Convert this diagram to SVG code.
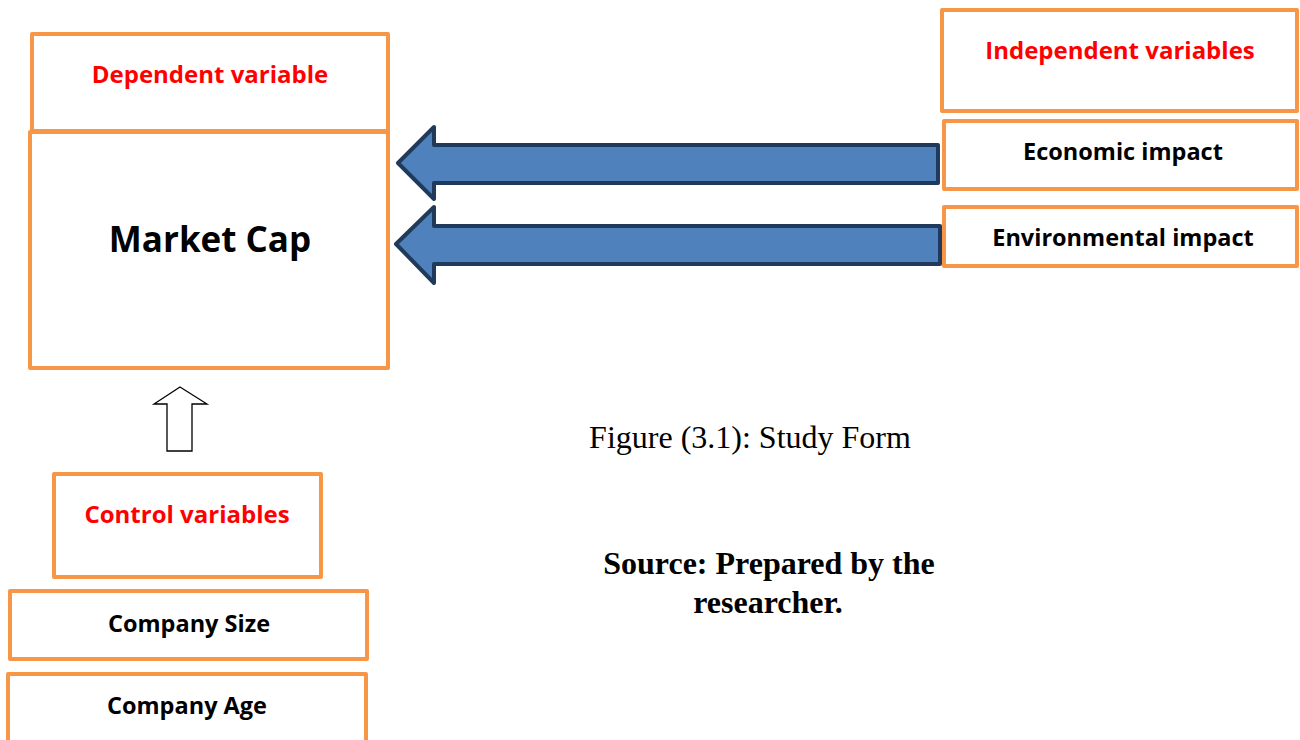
<svg xmlns="http://www.w3.org/2000/svg" width="1300" height="740" viewBox="0 0 1300 740">
<style>
.box{fill:#fff;stroke:#F79646;stroke-width:4;stroke-linejoin:round}
.lbl{font-family:"Open Sans","Liberation Sans",sans-serif;font-weight:bold;text-anchor:middle}
.red{fill:#FF0000;font-size:24px}
.blk{fill:#000;font-size:23.5px}
.big{fill:#000;font-size:35px}
.fat{fill:#4F81BD;stroke:#1F3A5A;stroke-width:4;stroke-linejoin:round}
.cap{font-family:"Liberation Serif","Times New Roman",serif;fill:#000;text-anchor:middle}
</style>
<rect width="1300" height="740" fill="#fff"/>
<g id="connectors">
<path class="fat" d="M398,163 L434,127 L434,145 L938,145 L938,183 L434,183 L434,199 Z"/>
<path class="fat" d="M396,244 L434,207 L434,226 L940,226 L940,264 L434,264 L434,283 Z"/>
<path d="M180,387 L207,404 L192,404 L192,451 L167,451 L167,404 L154,404 Z" fill="#fff" stroke="#000" stroke-width="1.3"/>
</g>
<g id="dependent"><rect class="box" x="32" y="34" width="356" height="97"/><text class="lbl red" x="210" y="83">Dependent variable</text></g>
<g id="marketcap"><rect class="box" x="30" y="132" width="358" height="236"/><text class="lbl big" x="210" y="252">Market Cap</text></g>
<g id="independent"><rect class="box" x="942" y="10" width="355" height="101"/><text class="lbl red" x="1120" y="59">Independent variables</text></g>
<g id="economic"><rect class="box" x="944" y="121" width="353" height="68"/><text class="lbl blk" x="1123" y="160">Economic impact</text></g>
<g id="environmental"><rect class="box" x="944" y="207" width="353" height="59"/><text class="lbl blk" x="1123" y="246">Environmental impact</text></g>
<g id="control"><rect class="box" x="54" y="474" width="267" height="103"/><text class="lbl red" x="187" y="523">Control variables</text></g>
<g id="size"><rect class="box" x="10" y="591" width="357" height="68"/><text class="lbl blk" x="189" y="632">Company Size</text></g>
<g id="age"><rect class="box" x="8" y="674" width="358" height="70"/><text class="lbl blk" x="187" y="714">Company Age</text></g>
<text class="cap" x="750" y="448" font-size="32">Figure (3.1): Study Form</text>
<text class="cap" x="769" y="574" font-size="32" font-weight="bold">Source: Prepared by the</text>
<text class="cap" x="768" y="613" font-size="32" font-weight="bold">researcher.</text>
</svg>
